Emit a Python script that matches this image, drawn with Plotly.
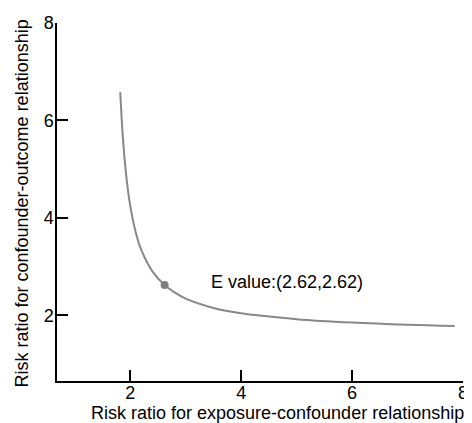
import plotly.graph_objects as go

# Curve values
rr_exposure = [1.82, 1.86, 1.90, 1.95, 2.00, 2.10, 2.20, 2.40, 2.62, 2.80, 3.00, 3.50, 4.00, 5.00, 6.00, 7.00, 7.85]
rr_outcome = [6.58, 5.78, 5.19, 4.65, 4.25, 3.70, 3.34, 2.90, 2.62, 2.47, 2.34, 2.15, 2.04, 1.92, 1.85, 1.805, 1.78]
e_value_x = [2.62]
e_value_y = [2.62]
e_label = "E value:(2.62,2.62)"
x_ticks = [2, 4, 6, 8]
y_ticks = [2, 4, 6, 8]

FONT = "Liberation Sans, Arial, Helvetica, sans-serif"

fig = go.Figure()
fig.add_trace(go.Scatter(x=rr_exposure, y=rr_outcome, mode="lines",
                         line=dict(color="#888888", width=2, shape="spline"),
                         hoverinfo="skip", showlegend=False))
fig.add_trace(go.Scatter(x=e_value_x, y=e_value_y, mode="markers",
                         marker=dict(color="#808080", size=8),
                         showlegend=False))
fig.add_annotation(x=e_value_x[0] + 0.8, y=e_value_y[0] + 0.07, text=e_label,
                   showarrow=False, xanchor="left", yanchor="middle",
                   font=dict(family=FONT, size=18, color="black"))

fig.add_annotation(xref="paper", yref="paper", x=(277 - 57) / 406, y=-32 / 358,
                   text="Risk ratio for exposure-confounder relationship",
                   showarrow=False, xanchor="center", yanchor="middle",
                   font=dict(family=FONT, size=18, color="black"))
fig.add_annotation(xref="paper", yref="paper", x=-36 / 406, y=(381 - 203.5) / 358,
                   text="Risk ratio for confounder-outcome relationship",
                   textangle=-90, showarrow=False, xanchor="center", yanchor="middle",
                   font=dict(family=FONT, size=18, color="black"))

axis_common = dict(showgrid=False, zeroline=False, showline=True, linecolor="black",
                   linewidth=1.5, ticks="inside", ticklen=11, tickwidth=1.5,
                   tickcolor="black", automargin=False,
                   tickfont=dict(family=FONT, size=18, color="black"))

# page body has an 8px default margin, so the figure is offset by 8px
fig.update_layout(
    width=464, height=415,
    margin=dict(l=49, r=9, t=15, b=42),
    paper_bgcolor="white", plot_bgcolor="white",
    xaxis=dict(range=[0.68, 8], tickvals=x_ticks, ticklabelstandoff=-5, **axis_common),
    yaxis=dict(range=[0.65, 8], tickvals=y_ticks, ticklabelstandoff=-2, **axis_common),
    showlegend=False,
)

fig.write_html("out.html")
